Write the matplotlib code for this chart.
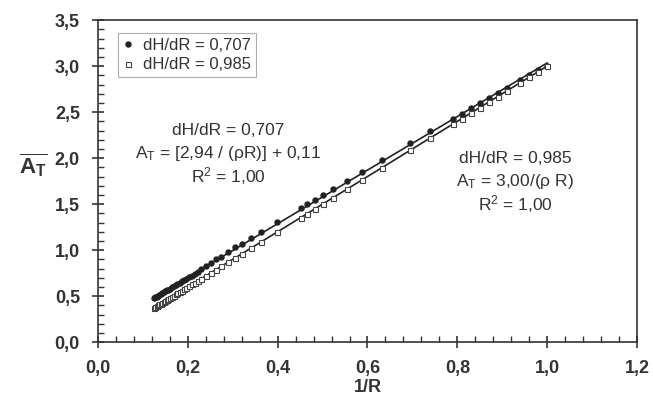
import numpy as np
import matplotlib
matplotlib.use('Agg')
import matplotlib.pyplot as plt
from matplotlib.ticker import MultipleLocator

plt.rcParams['font.family'] = ['Liberation Sans', 'DejaVu Sans']
plt.rcParams['mathtext.fontset'] = 'custom'
plt.rcParams['mathtext.rm'] = 'Liberation Sans'
plt.rcParams['mathtext.it'] = 'Liberation Sans'
plt.rcParams['mathtext.bf'] = 'Liberation Sans:bold'

# 1/R values (same for both series)
inv_r = [0.125, 0.128, 0.131, 0.134, 0.137, 0.140, 0.143, 0.147, 0.150, 0.154,
         0.157, 0.161, 0.165, 0.169, 0.173, 0.177, 0.182, 0.187, 0.192, 0.197,
         0.203, 0.209, 0.215, 0.222, 0.230, 0.241, 0.252, 0.263, 0.275, 0.290,
         0.306, 0.320, 0.340, 0.364, 0.399, 0.451, 0.466, 0.483, 0.501, 0.524,
         0.555, 0.587, 0.632, 0.695, 0.739, 0.790, 0.810, 0.830, 0.850, 0.870,
         0.890, 0.910, 0.940, 0.960, 0.980, 1.000]

# dH/dR = 0,707 (filled circles)
at_707 = [0.478, 0.486, 0.495, 0.504, 0.513, 0.522, 0.530, 0.542, 0.551, 0.563,
          0.572, 0.583, 0.595, 0.607, 0.619, 0.630, 0.645, 0.660, 0.674, 0.689,
          0.707, 0.724, 0.742, 0.763, 0.800, 0.830, 0.860, 0.900, 0.930, 0.980,
          1.030, 1.070, 1.130, 1.200, 1.310, 1.460, 1.500, 1.550, 1.600, 1.660,
          1.750, 1.850, 1.980, 2.160, 2.290, 2.430, 2.485, 2.540, 2.595, 2.650,
          2.705, 2.760, 2.845, 2.900, 2.955, 3.000]

# dH/dR = 0,985 (open squares)
at_985 = [0.375, 0.384, 0.393, 0.402, 0.411, 0.420, 0.429, 0.441, 0.450, 0.462,
          0.471, 0.483, 0.495, 0.507, 0.519, 0.531, 0.546, 0.561, 0.576, 0.591,
          0.609, 0.627, 0.645, 0.666, 0.690, 0.723, 0.756, 0.789, 0.825, 0.870,
          0.918, 0.960, 1.020, 1.092, 1.197, 1.353, 1.398, 1.449, 1.503, 1.572,
          1.665, 1.761, 1.896, 2.085, 2.217, 2.370, 2.430, 2.490, 2.550, 2.610,
          2.670, 2.730, 2.820, 2.880, 2.940, 3.000]

dark = '#333333'

fig = plt.figure(figsize=(6.53, 4.03), dpi=100)
ax = fig.add_axes([0.150, 0.151, 0.8255, 0.799])

x = np.array(inv_r)
y1 = np.array(at_707)
y2 = np.array(at_985)

# fitted lines
xl = np.array([x.min(), x.max()])
p1 = np.polyfit(x, y1, 1)
p2 = np.polyfit(x, y2, 1)
ax.plot(xl, np.polyval(p1, xl), color='#222222', lw=1.2, zorder=2)
ax.plot(xl, np.polyval(p2, xl), color='#222222', lw=1.2, zorder=2)

ax.plot(x, y1, 'o', ms=3.6, color='#222222', mec='#222222', lw=0,
        label='dH/dR = 0,707', zorder=3)
ax.plot(x, y2, 's', ms=3.6, mfc='white', mec='#444444', mew=0.8, lw=0,
        label='dH/dR = 0,985', zorder=3)

ax.set_xlim(0, 1.2)
ax.set_ylim(0, 3.5)
ax.xaxis.set_major_locator(MultipleLocator(0.2))
ax.xaxis.set_minor_locator(MultipleLocator(0.04))
ax.yaxis.set_major_locator(MultipleLocator(0.5))
ax.yaxis.set_minor_locator(MultipleLocator(0.1))

def comma(v, pos):
    return ('%.1f' % v).replace('.', ',')

ax.xaxis.set_major_formatter(plt.FuncFormatter(comma))
ax.yaxis.set_major_formatter(plt.FuncFormatter(comma))

ax.tick_params(which='major', direction='inout', length=8, width=1.2,
               color=dark, labelsize=13, labelcolor=dark)
ax.tick_params(axis='x', which='major', pad=9)
ax.tick_params(axis='y', which='major', pad=9)
ax.tick_params(which='minor', direction='in', length=4, width=1.0, color=dark)
for lab in ax.get_xticklabels() + ax.get_yticklabels():
    lab.set_fontweight('bold')
for s in ax.spines.values():
    s.set_color(dark)
    s.set_linewidth(1.2)

ax.set_xlabel('1/R', fontsize=13, fontweight='bold', color=dark)
ax.xaxis.set_label_coords(0.5, -0.115)
ax.set_ylabel(r'$\overline{\mathbf{A}_{\mathbf{T}}}$', fontsize=16, color=dark,
              rotation=0, va='center')
ax.yaxis.set_label_coords(-0.12, 0.55)

leg = ax.legend(loc='upper left', bbox_to_anchor=(0.022, 0.985), fontsize=12,
                frameon=True, fancybox=False, handlelength=0.6,
                handletextpad=0.6, borderpad=0.3, labelspacing=0.25)
leg.get_frame().set_edgecolor('#999999')
leg.get_frame().set_linewidth(0.8)
for t in leg.get_texts():
    t.set_color(dark)

fs = 12.5
ax.text(0.29, 2.30, 'dH/dR = 0,707', ha='center', va='center', fontsize=fs, color=dark)
ax.text(0.29, 2.05, r'A$_\mathregular{T}$ = [2,94 / ($\rho$R)] + 0,11', ha='center',
        va='center', fontsize=fs, color=dark)
ax.text(0.29, 1.80, r'R$^\mathregular{2}$ = 1,00', ha='center', va='center',
        fontsize=fs, color=dark)

ax.text(0.929, 2.00, 'dH/dR = 0,985', ha='center', va='center', fontsize=fs, color=dark)
ax.text(0.929, 1.75, r'A$_\mathregular{T}$ = 3,00/($\rho$ R)', ha='center', va='center',
        fontsize=fs, color=dark)
ax.text(0.929, 1.50, r'R$^\mathregular{2}$ = 1,00', ha='center', va='center',
        fontsize=fs, color=dark)

fig.savefig('out.png', dpi=100)
